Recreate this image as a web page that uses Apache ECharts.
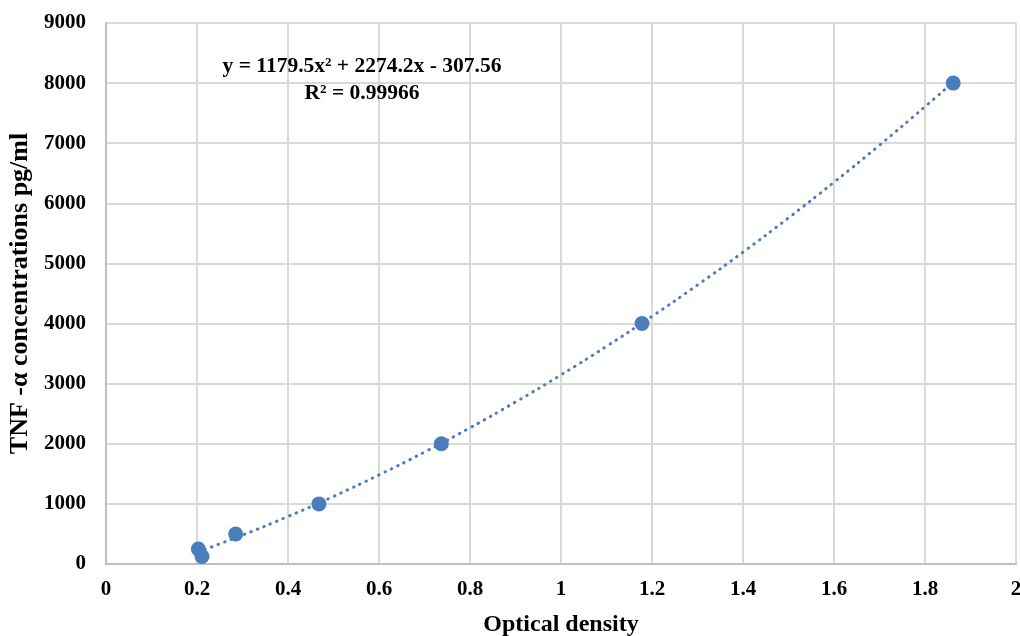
<!DOCTYPE html>
<html><head><meta charset="utf-8">
<script src="https://cdn.jsdelivr.net/npm/echarts@6/dist/echarts.min.js"></script>
<style>html,body{margin:0;padding:0;background:#fff}#c{width:1020px;height:636px}</style>
</head><body><div id="c"></div>
<script>
const odValues = [0.203, 0.211, 0.285, 0.468, 0.737, 1.178, 1.862];
const concValues = [250, 125, 500, 1000, 2000, 4000, 8000];
const trendX = [0.203, 0.3, 0.4, 0.5, 0.6, 0.7, 0.8, 0.9, 1.0, 1.1, 1.2, 1.3, 1.4, 1.5, 1.6, 1.7, 1.8, 1.862];
const trendY = [203, 481, 791, 1124, 1482, 1862, 2267, 2695, 3146, 3621, 4120, 4642, 5188, 5758, 6351, 6967, 7608, 8016];
const eqLine1 = 'y = 1179.5x² + 2274.2x - 307.56';
const eqLine2 = 'R² = 0.99966';
const xTitle = 'Optical density';
const yTitle = 'TNF -α concentrations pg/ml';

const font = '"Liberation Serif", "Times New Roman", serif';
const chart = echarts.init(document.getElementById('c'));
chart.setOption({
  animation: false,
  backgroundColor: '#fff',
  grid: {left: 106, right: 4, top: 23, bottom: 72, containLabel: false, outerBoundsMode: 'none'},
  xAxis: {
    type: 'value', min: 0, max: 2, interval: 0.2,
    name: xTitle, nameLocation: 'middle', nameGap: 49,
    nameTextStyle: {fontFamily: font, fontWeight: 'bold', fontSize: 24, color: '#000'},
    axisLine: {show: true, lineStyle: {color: '#bfbfbf', width: 2}},
    axisTick: {show: false},
    axisLabel: {fontFamily: font, fontWeight: 'bold', fontSize: 21, color: '#000', margin: 15,
      formatter: v => String(Math.round(v * 10) / 10)},
    splitLine: {show: true, lineStyle: {color: '#d9d9d9', width: 2}}
  },
  yAxis: {
    type: 'value', min: 0, max: 9000, interval: 1000,
    name: yTitle, nameLocation: 'middle', nameGap: 70, nameRotate: 90,
    nameTextStyle: {fontFamily: font, fontWeight: 'bold', fontSize: 26, color: '#000'},
    axisLine: {show: true, lineStyle: {color: '#bfbfbf', width: 2}},
    axisTick: {show: false},
    axisLabel: {fontFamily: font, fontWeight: 'bold', fontSize: 21, color: '#000', margin: 20,
      formatter: v => String(v)},
    splitLine: {show: true, lineStyle: {color: '#d9d9d9', width: 2}}
  },
  series: [
    {
      type: 'line', data: trendX.map((x, i) => [x, trendY[i]]), smooth: true,
      showSymbol: false, symbol: 'none',
      lineStyle: {color: '#4a7ebb', width: 3, type: [0.5, 6.5], cap: 'round'},
      z: 2
    },
    {
      type: 'scatter', data: odValues.map((x, i) => [x, concValues[i]]),
      symbol: 'circle', symbolSize: 15,
      itemStyle: {color: '#4a7ebb', opacity: 1},
      z: 3
    }
  ],
  graphic: [
    {type: 'text', x: 362, y: 66, z: 100, style: {text: eqLine1, fontFamily: font, fontWeight: 'bold', fontSize: 21.5, fill: '#000', textAlign: 'center', textVerticalAlign: 'middle'}},
    {type: 'text', x: 362, y: 93, z: 100, style: {text: eqLine2, fontFamily: font, fontWeight: 'bold', fontSize: 21.5, fill: '#000', textAlign: 'center', textVerticalAlign: 'middle'}}
  ]
});
</script>
</body></html>
